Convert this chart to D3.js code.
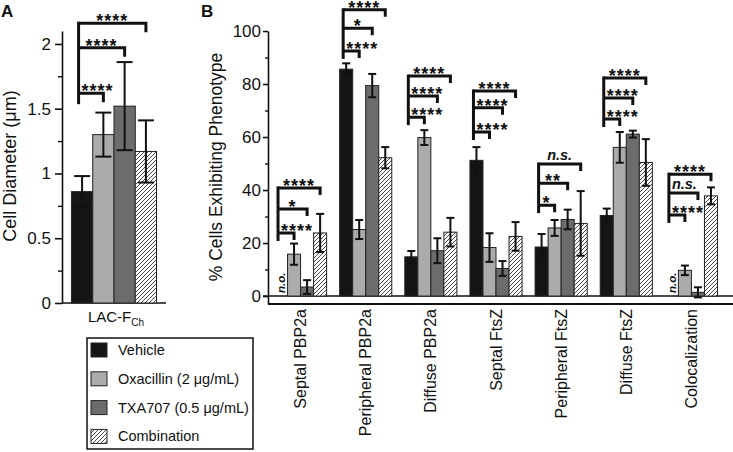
<!DOCTYPE html>
<html lang="en">
<head>
<meta charset="utf-8">
<title>Cell diameter and phenotypes</title>
<script src="https://cdn.jsdelivr.net/npm/d3@7"></script>
<style>
  body { margin: 0; background: #fff; }
  svg text { font-family: "Liberation Sans", Arial, sans-serif; fill: #111; }
</style>
</head>
<body>
<div id="chart"></div>
<script>
// ---- data ----
const seriesNames = ["Vehicle", "Oxacillin (2 μg/mL)", "TXA707 (0.5 μg/mL)", "Combination"];

// panel A
const diamGroup = ["LAC-F"];
const diamMean = [0.86, 1.30, 1.52, 1.17];
const diamErr = [0.12, 0.17, 0.34, 0.24];
const diamTicks = [0, 0.5, 1, 1.5, 2];
const diamMinorTicks = [0.25, 0.75, 1.25, 1.75];
const diamSigLevels = [1.62, 1.97, 2.16];
const diamSigLabels = ["****", "****", "****"];

// panel B (null = not observed)
const phenotypes = ["Septal PBP2a", "Peripheral PBP2a", "Diffuse PBP2a", "Septal FtsZ",
  "Peripheral FtsZ", "Diffuse FtsZ", "Colocalization"];
const vehicle = [null, 85.6, 14.8, 51.2, 18.5, 30.4, null];
const vehicleErr = [0, 2.2, 2.2, 5.0, 4.9, 2.6, 0];
const oxacillin = [15.8, 25.1, 59.8, 18.3, 25.7, 56.1, 9.7];
const oxacillinErr = [4.0, 3.6, 2.8, 5.4, 3.0, 5.8, 1.8];
const txa707 = [3.4, 79.4, 17.1, 10.4, 28.9, 61.1, 1.4];
const txa707Err = [2.6, 4.4, 4.7, 2.8, 3.7, 1.3, 1.9];
const combination = [23.8, 52.2, 24.1, 22.5, 27.4, 50.4, 37.8];
const combinationErr = [7.2, 4.0, 5.4, 5.4, 12.2, 8.8, 3.2];
const pctTicks = [0, 20, 40, 60, 80, 100];
const pctMinorTicks = [10, 30, 50, 70, 90];
// brackets: vehicle vs oxacillin, vs TXA707, vs combination
const sigLevels = [
  [23.8, 32.8, 40.8], [92.5, 101, 108], [67.5, 75.5, 83], [61.9, 71, 77.4],
  [34.3, 42.6, 49.8], [66.8, 74.7, 82.3], [30.6, 38.9, 46]
];
const sigLabels = [
  ["****", "*", "****"], ["****", "*", "****"], ["****", "****", "****"], ["****", "****", "****"],
  ["*", "**", "n.s."], ["****", "****", "****"], ["****", "n.s.", "****"]
];

const fills = ["#151515", "#ababab", "#6c6c6c", "url(#hatch)"];

// ---- setup ----
const svg = d3.select("#chart").append("svg")
  .attr("width", 733).attr("height", 452);

const hatch = svg.append("defs").append("pattern")
  .attr("id", "hatch").attr("patternUnits", "userSpaceOnUse")
  .attr("width", 4).attr("height", 4);
hatch.append("rect").attr("width", 4).attr("height", 4).attr("fill", "#fff");
hatch.append("path").attr("d", "M-1,1l2,-2M0,4l4,-4M3,5l2,-2")
  .attr("stroke", "#333").attr("stroke-width", 0.9);

function errorBars(g, x, top, bottom, cap) {
  g.append("line").attr("x1", x).attr("x2", x).attr("y1", top).attr("y2", bottom);
  g.append("line").attr("x1", x - cap / 2).attr("x2", x + cap / 2).attr("y1", top).attr("y2", top);
  g.append("line").attr("x1", x - cap / 2).attr("x2", x + cap / 2).attr("y1", bottom).attr("y2", bottom);
}

function brackets(g, left, rights, levels, labels, tail, drop) {
  g.append("line")
    .attr("x1", left).attr("x2", left)
    .attr("y1", d3.max(levels) + tail).attr("y2", d3.min(levels) - 1.5);
  levels.forEach((ly, i) => {
    g.append("path").attr("d", `M${left},${ly}H${rights[i]}V${ly + drop}`);
    const star = labels[i].startsWith("*");
    const t = g.append("text")
      .attr("text-anchor", "middle")
      .attr("font-weight", "bold")
      .attr("font-style", star ? null : "italic")
      .attr("font-size", star ? 18 : 14.5)
      .attr("letter-spacing", star ? 1 : null)
      .attr("stroke", "none")
      .text(labels[i]);
    const w = t.node().getComputedTextLength();
    t.attr("x", Math.max((left + rights[i]) / 2, left + w / 2 + 3))
      .attr("y", star ? ly + 4 : ly - 4);
  });
}

// ---- panel A ----
const yA = d3.scaleLinear().domain([0, 2.1]).range([303, 31]);
const xA = d3.scaleBand().domain(diamGroup).range([62, 166]).padding(0.1);
const x1A = d3.scaleBand().domain(d3.range(seriesNames.length)).range([0, xA.bandwidth()]);

const gA = svg.append("g");
gA.append("g").attr("transform", "translate(62,0)")
  .call(d3.axisLeft(yA).tickValues(diamTicks).tickFormat(d => String(d))
    .tickSize(7).tickSizeOuter(0).tickPadding(4))
  .call(a => a.selectAll("text").attr("font-size", 17).attr("fill", "#111").attr("font-family", null))
  .call(a => a.selectAll("path,line").attr("stroke", "#111").attr("stroke-width", 1.6));
gA.append("g").attr("transform", "translate(62,0)")
  .call(d3.axisLeft(yA).tickValues(diamMinorTicks).tickFormat("").tickSize(4))
  .call(a => a.select(".domain").remove())
  .call(a => a.selectAll("line").attr("stroke", "#111").attr("stroke-width", 1.4));
gA.append("line").attr("x1", 62).attr("x2", 166).attr("y1", yA(0)).attr("y2", yA(0))
  .attr("stroke", "#111").attr("stroke-width", 1.6);

diamMean.forEach((v, i) => {
  gA.append("rect")
    .attr("x", xA(diamGroup[0]) + x1A(i)).attr("width", x1A.bandwidth())
    .attr("y", yA(v)).attr("height", yA(0) - yA(v))
    .attr("fill", fills[i]).attr("stroke", "#222").attr("stroke-width", 1);
});
const errA = gA.append("g").attr("stroke", "#111").attr("stroke-width", 2);
diamMean.forEach((v, i) => {
  const cx = xA(diamGroup[0]) + x1A(i) + x1A.bandwidth() / 2;
  errorBars(errA, cx, yA(v + diamErr[i]), yA(v - diamErr[i]), 16);
});

const brA = gA.append("g").attr("stroke", "#111").attr("stroke-width", 3).attr("fill", "none");
const aLeft = xA(diamGroup[0]) + x1A(0) + x1A.bandwidth() / 2 - 3.5;
brackets(brA, aLeft,
  [1, 2, 3].map(i => xA(diamGroup[0]) + x1A(i) + x1A.bandwidth() / 2),
  diamSigLevels.map(yA), diamSigLabels, 11, 9);

const labA = gA.append("text").attr("x", xA(diamGroup[0]) + xA.bandwidth() / 2 + 2).attr("y", 322)
  .attr("text-anchor", "middle").attr("font-size", 15);
labA.append("tspan").text(diamGroup[0]);
labA.append("tspan").attr("font-size", 10).attr("dy", 4).text("Ch");

gA.append("text").attr("transform", "translate(10,166) rotate(-90)")
  .attr("text-anchor", "middle").attr("dy", "0.35em").attr("font-size", 18)
  .text("Cell Diameter (μm)");

svg.append("text").attr("x", 1).attr("y", 17).attr("font-size", 17)
  .attr("font-weight", "bold").text("A");

// ---- panel B ----
const yB = d3.scaleLinear().domain([-3, 100]).range([304, 31]);
const xB = d3.scaleBand().domain(phenotypes).range([268, 724]).paddingInner(0.2).paddingOuter(0.1);
const x1B = d3.scaleBand().domain(d3.range(seriesNames.length)).range([0, xB.bandwidth()]);
const seriesB = [vehicle, oxacillin, txa707, combination];
const errB = [vehicleErr, oxacillinErr, txa707Err, combinationErr];

const gB = svg.append("g");
gB.append("g").attr("transform", "translate(268,0)")
  .call(d3.axisLeft(yB).tickValues(pctTicks).tickFormat(d => String(d))
    .tickSize(5).tickSizeOuter(0).tickPadding(2))
  .call(a => a.selectAll("text").attr("font-size", 17).attr("fill", "#111").attr("font-family", null))
  .call(a => a.selectAll("path,line").attr("stroke", "#111").attr("stroke-width", 1.6));
gB.append("g").attr("transform", "translate(268,0)")
  .call(d3.axisLeft(yB).tickValues(pctMinorTicks).tickFormat("").tickSize(3))
  .call(a => a.select(".domain").remove())
  .call(a => a.selectAll("line").attr("stroke", "#111").attr("stroke-width", 1.4));
gB.append("line").attr("x1", 263).attr("x2", 733).attr("y1", yB(0)).attr("y2", yB(0))
  .attr("stroke", "#111").attr("stroke-width", 1.6);
gB.append("line").attr("x1", 268).attr("x2", 733).attr("y1", yB(-3)).attr("y2", yB(-3))
  .attr("stroke", "#111").attr("stroke-width", 1.8);

phenotypes.forEach((p, j) => {
  seriesB.forEach((s, i) => {
    if (s[j] == null) return;
    gB.append("rect")
      .attr("x", xB(p) + x1B(i)).attr("width", x1B.bandwidth())
      .attr("y", yB(s[j])).attr("height", yB(0) - yB(s[j]))
      .attr("fill", fills[i]).attr("stroke", "#222").attr("stroke-width", 1);
  });
});
const errGB = gB.append("g").attr("stroke", "#111").attr("stroke-width", 2);
phenotypes.forEach((p, j) => {
  seriesB.forEach((s, i) => {
    if (s[j] == null) return;
    const cx = xB(p) + x1B(i) + x1B.bandwidth() / 2;
    errorBars(errGB, cx, yB(s[j] + errB[i][j]), yB(s[j] - errB[i][j]), 8);
  });
});

// not observed
phenotypes.forEach((p, j) => {
  if (vehicle[j] != null) return;
  const cx = xB(p) + x1B(0) + x1B.bandwidth() / 2;
  gB.append("text").attr("transform", `translate(${cx + 4},${yB(0) - 3}) rotate(-90)`)
    .attr("font-size", 11.5).attr("font-weight", "bold").attr("font-style", "italic")
    .text("n.o.");
});

const brB = gB.append("g").attr("stroke", "#111").attr("stroke-width", 3).attr("fill", "none");
phenotypes.forEach((p, j) => {
  const centers = d3.range(4).map(i => xB(p) + x1B(i) + x1B.bandwidth() / 2);
  brackets(brB, centers[0] - 3, centers.slice(1), sigLevels[j].map(yB), sigLabels[j], 8, 7);
});

gB.append("g").selectAll("text").data(phenotypes).join("text")
  .attr("transform", d => `translate(${xB(d) + xB.bandwidth() / 2},309) rotate(-90)`)
  .attr("text-anchor", "end").attr("dy", "0.35em").attr("font-size", 16)
  .text(d => d);

gB.append("text").attr("transform", "translate(216,167) rotate(-90)")
  .attr("text-anchor", "middle").attr("dy", "0.35em").attr("font-size", 17.5)
  .text("% Cells Exhibiting Phenotype");

svg.append("text").attr("x", 201).attr("y", 17).attr("font-size", 17)
  .attr("font-weight", "bold").text("B");

// ---- legend ----
const leg = svg.append("g");
leg.append("rect").attr("x", 87).attr("y", 338).attr("width", 166).attr("height", 111)
  .attr("fill", "#fff").attr("stroke", "#111").attr("stroke-width", 1.5);
seriesNames.forEach((name, i) => {
  const cy = 350 + i * 28.8;
  leg.append("rect").attr("x", 91).attr("y", cy - 7).attr("width", 16).attr("height", 14)
    .attr("fill", fills[i]).attr("stroke", "#222").attr("stroke-width", 1);
  leg.append("text").attr("x", 118).attr("y", cy).attr("dy", "0.35em")
    .attr("font-size", 14.5).text(name);
});
</script>
</body>
</html>
